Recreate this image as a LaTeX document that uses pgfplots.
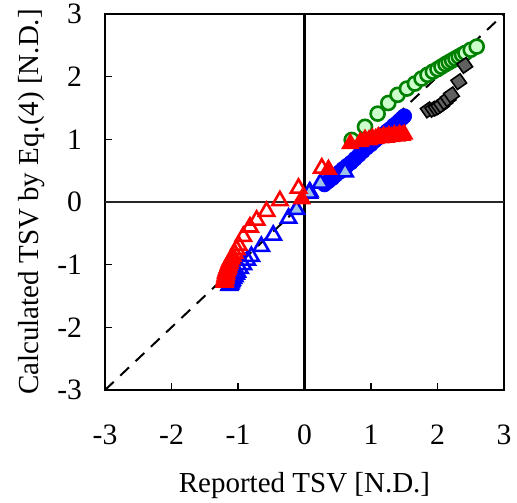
\documentclass[border=0pt]{standalone}
\usepackage{fontspec}
\setmainfont{Liberation Serif}
\usepackage{pgfplots}
\pgfplotsset{compat=1.18}

\definecolor{dgreen}{HTML}{008000}
\definecolor{lgreen}{HTML}{CCFFCC}
\definecolor{lblue}{HTML}{9DC3E6}
\definecolor{dgray}{HTML}{606060}

\begin{document}
\begin{tikzpicture}
\begin{axis}[
    name=ax,
    scale only axis,
    width=199.5pt, height=188pt,
    xmin=-3, xmax=3, ymin=-3, ymax=3,
    xtick={-3,-2,-1,0,1,2,3},
    ytick={-3,-2,-1,0,1,2,3},
    xticklabels={-3,-2,-1,0,1,2,3},
    yticklabels={-3,-2,-1,0,1,2,3},
    xtick pos=bottom, ytick pos=left,
    tick align=inside,
    major tick length=3.5pt,
    axis line style={line width=1.3pt},
    tick style={black, line width=0.6pt},
    tick label style={font=\fontsize{14.8}{17}\selectfont},
    xticklabel style={yshift=-14pt},
    yticklabel style={xshift=-8pt},
    label style={font=\fontsize{14.5}{17}\selectfont},
    xlabel={Reported TSV [N.D.]},
    ylabel={Calculated TSV by Eq.(4) [N.D.]},
    xlabel style={at={(axis description cs:0.5,-0.253)}, anchor=center},
    ylabel style={at={(axis description cs:-0.183,0.5)}, anchor=center, rotate=0},
    clip=false,
]
% reference lines
\addplot[black!85, line width=0.6pt] coordinates {(-3,0) (3,0)};
\addplot[black, line width=1.3pt] coordinates {(0,-3) (0,3)};
\addplot[black, line width=1pt, dash pattern=on 6pt off 4.5pt] coordinates {(-3,-3) (3,3)};

% green open circles
\addplot[only marks, mark=*, mark size=3.5pt,
    mark options={draw=dgreen, fill=lgreen, line width=1.3pt}] coordinates {
    (0.71,0.99) (0.91,1.20) (1.10,1.41) (1.26,1.58) (1.40,1.71) (1.54,1.81)
    (1.66,1.89) (1.76,1.97) (1.85,2.03) (1.93,2.08) (2.00,2.12) (2.06,2.16)
    (2.12,2.20) (2.17,2.23) (2.22,2.26) (2.27,2.29) (2.32,2.32) (2.37,2.35)
    (2.42,2.38) (2.50,2.43) (2.59,2.48)
};

% gray diamonds
\addplot[only marks, mark=square*, mark size=2.8pt,
    mark options={draw=black, fill=dgray, line width=0.8pt, rotate=35}] coordinates {
    (1.86,1.47) (1.93,1.48) (1.98,1.50) (2.02,1.52) (2.06,1.55) (2.11,1.60)
    (2.16,1.65) (2.21,1.71) (2.32,1.92) (2.41,2.18)
};

% blue filled circles
\addplot[only marks, mark=*, mark size=3.7pt,
    mark options={draw=blue, fill=blue}] coordinates {
    (0.30,0.28) (0.36,0.33) (0.42,0.38) (0.47,0.43) (0.53,0.48) (0.58,0.53)
    (0.64,0.58) (0.70,0.63) (0.76,0.69) (0.82,0.75) (0.88,0.81) (0.94,0.87)
    (1.00,0.92) (1.06,0.98) (1.12,1.03) (1.18,1.08) (1.24,1.13) (1.29,1.17)
    (1.34,1.22) (1.39,1.26) (1.43,1.30) (1.47,1.34) (1.50,1.37)
};

% blue open triangles
\addplot[only marks, mark=triangle, mark size=4.4pt,
    mark options={draw=blue, line width=1.3pt}] coordinates {
    (-1.13,-1.33) (-1.12,-1.31) (-1.11,-1.29) (-1.10,-1.27) (-1.09,-1.25)
    (-1.07,-1.22) (-1.05,-1.19) (-1.03,-1.15) (-1.01,-1.12) (-0.97,-1.06)
    (-0.92,-1.00) (-0.86,-0.93) (-0.80,-0.87) (-0.65,-0.71)
    (-0.47,-0.53) (-0.24,-0.26) (0.08,0.16)
};

% light blue filled triangles
\addplot[only marks, mark=triangle*, mark size=4.4pt,
    mark options={draw=blue, fill=lblue, line width=1.3pt}] coordinates {
    (-0.12,-0.12) (0.07,0.14) (0.24,0.30) (0.61,0.48)
};

% red open triangles
\addplot[only marks, mark=triangle, mark size=4.4pt,
    mark options={draw=red, line width=1.3pt}] coordinates {
    (-1.20,-1.28) (-1.20,-1.25) (-1.19,-1.22) (-1.19,-1.19) (-1.18,-1.16)
    (-1.18,-1.13) (-1.17,-1.10) (-1.16,-1.07) (-1.15,-1.04) (-1.14,-1.01)
    (-1.13,-0.98) (-1.12,-0.95) (-1.10,-0.91) (-1.08,-0.87) (-1.05,-0.82)
    (-1.02,-0.76) (-0.99,-0.69) (-0.92,-0.55) (-0.82,-0.40) (-0.72,-0.29)
    (-0.57,-0.15) (-0.37,0.02) (-0.09,0.22) (0.26,0.54)
};

% red filled triangles
\addplot[only marks, mark=triangle*, mark size=4.4pt,
    mark options={draw=red, fill=red, line width=1pt}] coordinates {
    (-0.04,0.05) (0.36,0.52) (0.69,0.93) (0.84,0.96) (0.91,1.00) (0.97,0.99)
    (1.02,1.02) (1.07,1.01) (1.11,1.04) (1.15,1.02) (1.19,1.05) (1.23,1.03)
    (1.27,1.06) (1.31,1.04) (1.35,1.07) (1.39,1.05) (1.43,1.08) (1.47,1.06)
    (1.50,1.08)
};
\end{axis}
\path (ax.south west) ++(-52.5pt,-56pt) coordinate (bbA);
\path (ax.north east) ++(6.5pt,7pt) coordinate (bbB);
\pgfresetboundingbox
\path (bbA) rectangle (bbB);
\end{tikzpicture}
\end{document}
